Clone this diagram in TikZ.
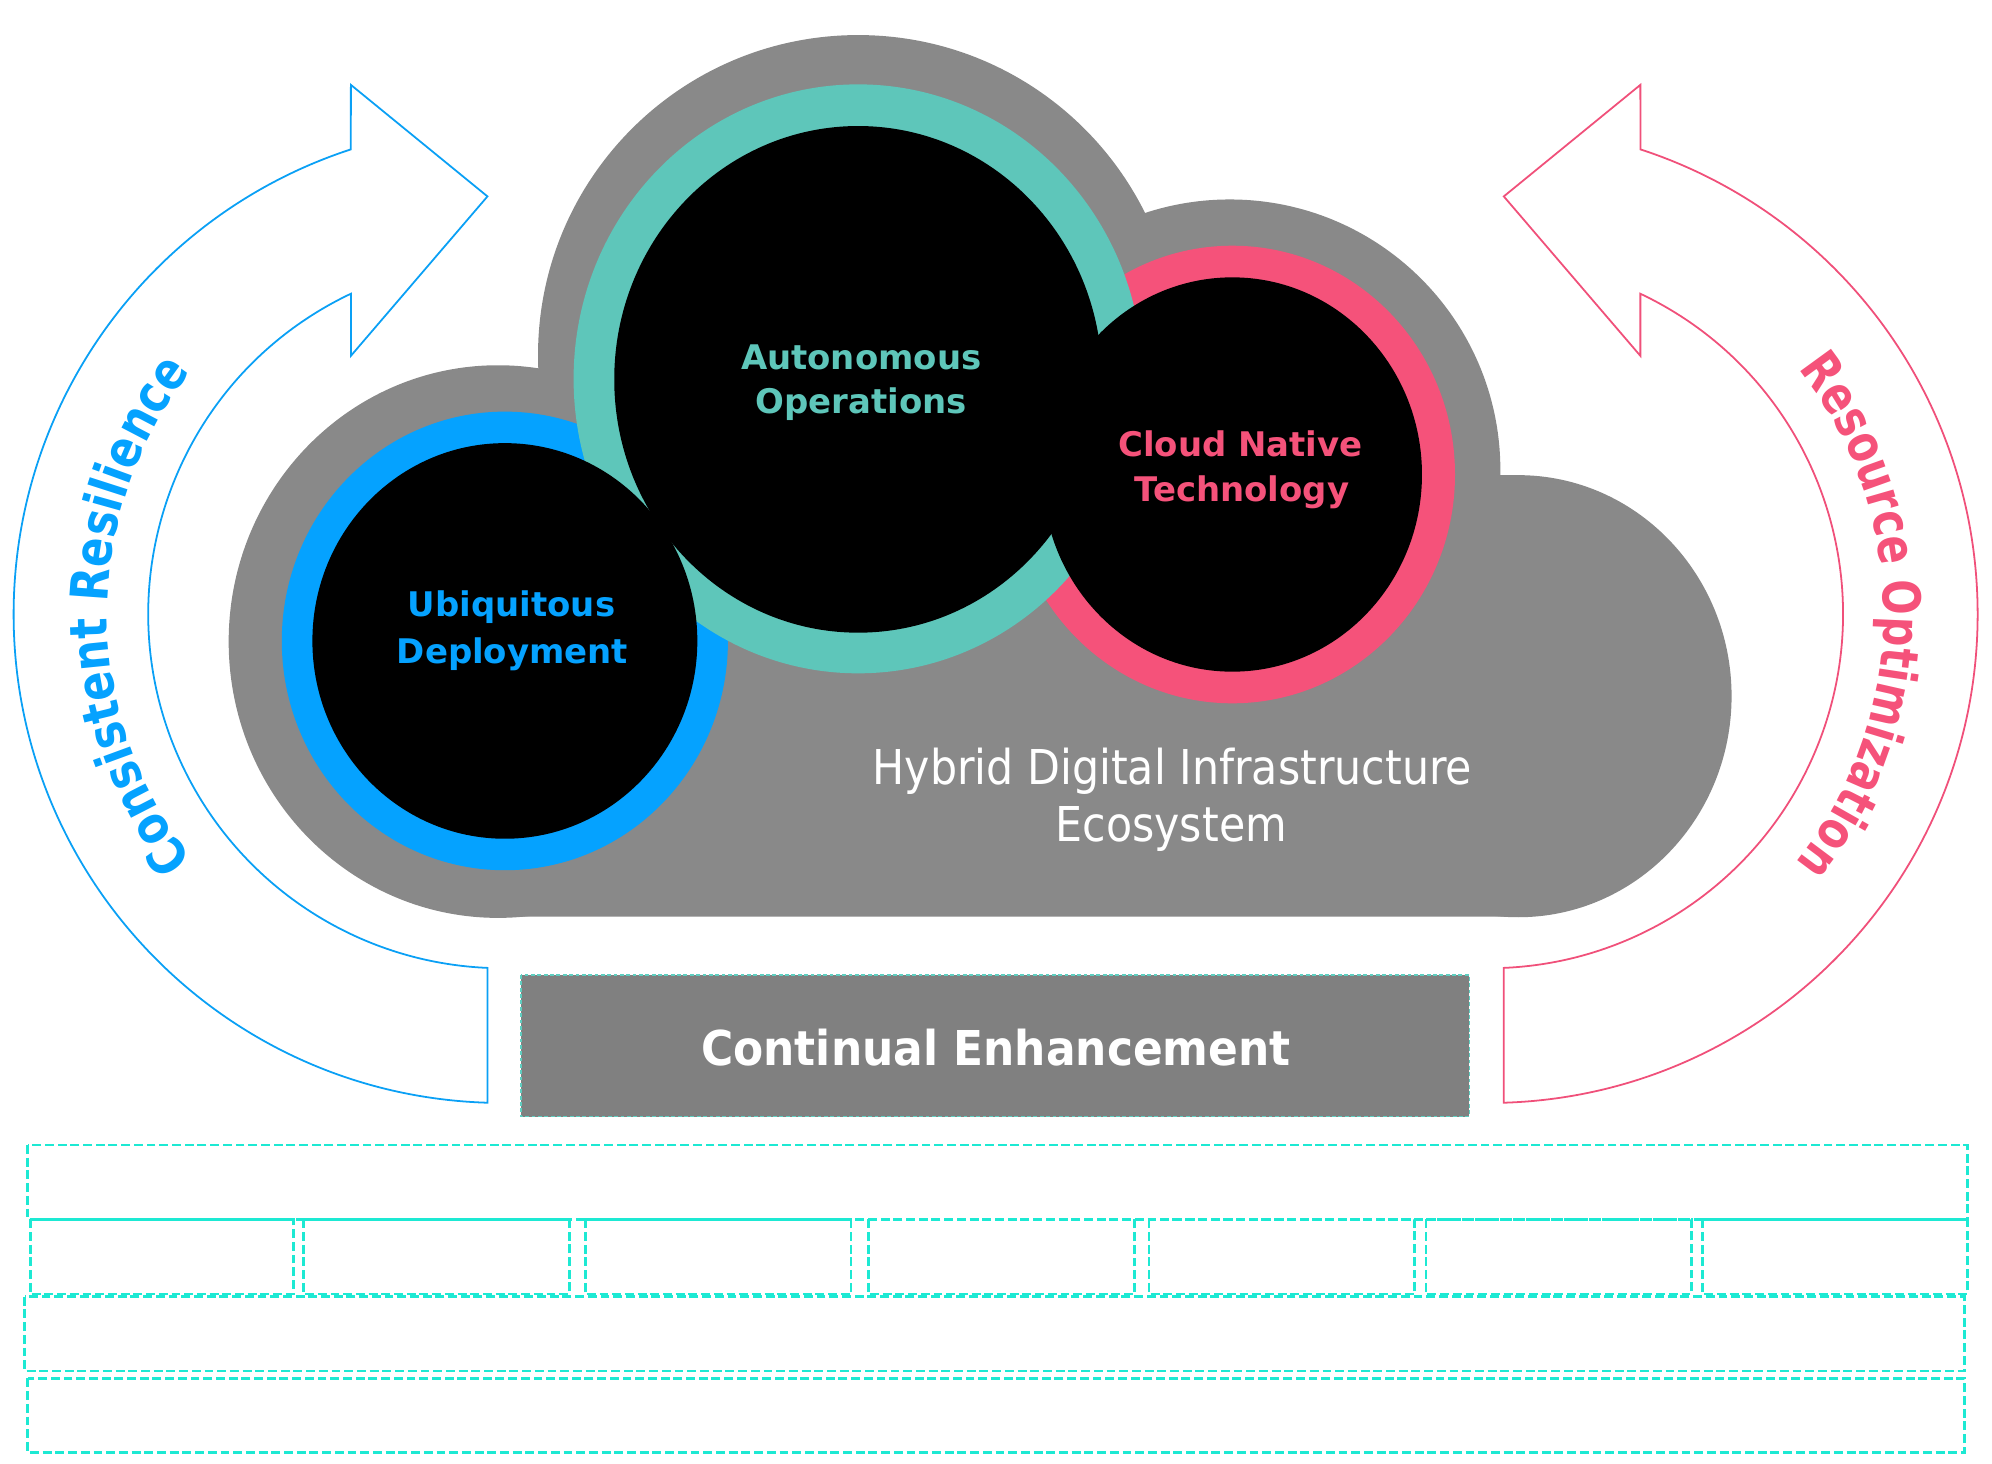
\documentclass[tikz,border=0pt]{standalone}
\usepackage{fontspec}
\setmainfont{DejaVu Sans}
\newfontfamily\hyfont[FakeStretch=0.89]{DejaVu Sans}
\newfontfamily\cefont[FakeStretch=0.915]{DejaVu Sans}
\newfontfamily\arcfontL[FakeStretch=0.835]{DejaVu Sans}
\newfontfamily\arcfontR[FakeStretch=0.80]{DejaVu Sans}
\usetikzlibrary{decorations.text}
\definecolor{cblue}{RGB}{5,162,255}
\definecolor{cteal}{RGB}{94,198,186}
\definecolor{cpink}{RGB}{245,82,122}
\definecolor{cgray}{RGB}{137,137,137}
\definecolor{cboxgray}{RGB}{128,128,128}
\definecolor{cdash}{RGB}{29,233,211}
\definecolor{cboxline}{RGB}{94,206,192}
\definecolor{carrowblue}{RGB}{10,160,245}
\definecolor{carrowpink}{RGB}{240,80,122}
\tikzset{
  circlabel/.style={font=\bfseries\fontsize{26.7}{35}\selectfont, anchor=base, inner sep=0pt},
  hylabel/.style={font=\hyfont\fontsize{37.8}{44}\selectfont, text=white, anchor=base, inner sep=0pt},
  gridbox/.style={draw=cdash, line width=2pt, dash pattern=on 7pt off 3pt},
  arrowline/.style={line width=1.4pt, line join=miter},
}
\begin{document}
\begin{tikzpicture}[x=1pt,y=-1pt]
\useasboundingbox (0,0) rectangle (1568,1151.6);

% cloud
\fill[cgray] (675.5,279.6) circle[radius=252];
\fill[cgray] (968,370) circle[radius=213];
\fill[cgray] (392,505) ellipse[x radius=212, y radius=217.5];
\fill[cgray] (1195,548) ellipse[x radius=168, y radius=174];
\fill[cgray] (423.7,290.5) -- (675.5,279.6) -- (968,370) -- (1181,373.9) -- (1195,374)
  -- (1195,721.6) -- (392,721.6) -- (392,505) -- cycle;

% rings
\fill[cblue] (397.4,504.5) ellipse[x radius=175.6, y radius=180.5];
\fill[cpink] (970,373.5) ellipse[x radius=175.3, y radius=180.1];
\fill[cteal] (675.5,298.2) ellipse[x radius=224, y radius=231.8];
\fill[black] (397.4,504.5) ellipse[x radius=151.5, y radius=155.7];
\fill[black] (970,373.5) ellipse[x radius=149.3, y radius=155.2];
\fill[black] (675.5,298.6) ellipse[x radius=192, y radius=199.4];

% circle labels
\node[circlabel, text=cteal] (ao1) at (677.9,290.7) {Autonomous};
\node[circlabel, text=cteal] (ao2) at (678.1,325.4) {Operations};
\node[circlabel, text=cpink] (cn1) at (976.3,359.5) {Cloud Native};
\node[circlabel, text=cpink] (cn2) at (977.5,394.5) {Technology};
\node[circlabel, text=cblue] (ud1) at (402.7,485.4) {Ubiquitous};
\node[circlabel, text=cblue] (ud2) at (403.4,522.2) {Deployment};

\node[hylabel] (hy1) at (922.8,617.9) {Hybrid Digital Infrastructure};
\node[hylabel] (hy2) at (922.0,662.5) {Ecosystem};

% left circular arrow
\draw[arrowline, draw=carrowblue] (395.5,483.4) ++(91.76:384.8)
  arc[start angle=91.76, end angle=251.93, radius=384.8]
  -- (276.2,66.8) -- (383.7,154.6) -- (276.2,280.1) -- (276.2,231.2)
  arc[start angle=244.65, end angle=92.43, radius=278.9] -- cycle;

% right circular arrow (mirror)
\begin{scope}[shift={(1567.4,0)}, xscale=-1]
\draw[arrowline, draw=carrowpink] (395.5,483.4) ++(91.76:384.8)
  arc[start angle=91.76, end angle=251.93, radius=384.8]
  -- (276.2,66.8) -- (383.7,154.6) -- (276.2,280.1) -- (276.2,231.2)
  arc[start angle=244.65, end angle=92.43, radius=278.9] -- cycle;
\end{scope}

% curved labels
\path[decorate, decoration={text along path, text align=center, text color=cblue,
  text={|\arcfontL\bfseries\fontsize{41}{41}\selectfont|Consistent Resilience}}]
  (395.5,483.4) ++(128:311) arc[start angle=128, end angle=231.4, radius=311];
\path[decorate, decoration={text along path, text align=center, text color=cpink,
  text={|\arcfontR\bfseries\fontsize{41}{41}\selectfont|Resource Optimization}}]
  (1171.9,483.4) ++(-52:311) arc[start angle=-52, end angle=52.6, radius=311];

% continual enhancement
\fill[cboxgray] (410,767.5) rectangle (1156.5,879);
\draw[draw=cboxline, line width=1pt, dash pattern=on 3pt off 2pt] (410,767.5) rectangle (1156.5,879);
\node[font=\cefont\bfseries\fontsize{37.8}{44}\selectfont, text=white, anchor=base, inner sep=0pt] (ce) at (784,838.3) {Continual Enhancement};

% bottom grid
\draw[gridbox] (21.8,901.3) rectangle (1548.6,959.8);
\draw[gridbox] (23.8,959.8) rectangle (230.9,1018.6);
\draw[gridbox] (239,959.8) rectangle (448.1,1018.6);
\draw[gridbox] (460.7,959.8) rectangle (670,1018.6);
\draw[gridbox] (683.6,959.8) rectangle (893.1,1018.6);
\draw[gridbox] (904.5,959.8) rectangle (1113.4,1018.6);
\draw[gridbox] (1122.4,959.8) rectangle (1331.3,1018.6);
\draw[gridbox] (1340.3,959.8) rectangle (1548.6,1018.6);
\draw[gridbox] (19.3,1020.7) rectangle (1546.2,1079);
\draw[gridbox] (21.8,1085) rectangle (1546.2,1143.2);
\end{tikzpicture}
\end{document}
